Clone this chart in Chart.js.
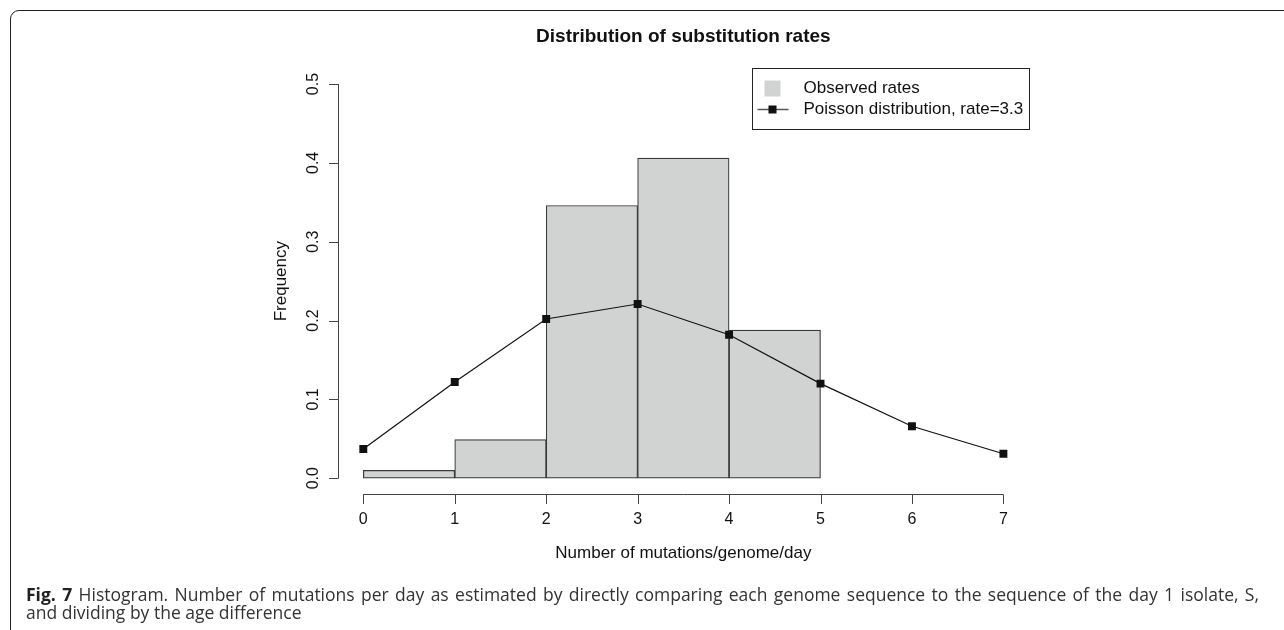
<!DOCTYPE html>
<html>
<head>
<meta charset="utf-8">
<script src="https://cdn.jsdelivr.net/npm/chart.js@4/dist/chart.umd.min.js"></script>
<style>
    body { margin: 0; background: #fff; }
    #wrap { position: relative; width: 1284px; height: 630px; overflow: hidden; }
    #frame {
        position: absolute; left: 10px; top: 10px; width: 1320px; height: 700px;
        border: 1.5px solid #222; border-radius: 9px; box-sizing: border-box;
    }
    #chart { position: absolute; left: 0; top: 0; }
    #caption {
        position: absolute; left: 26px; top: 585px; width: 1233px;
        font-family: "Open Sans", sans-serif; font-size: 17.5px; line-height: 18px; color: #333;
    }
    #caption .first { display: block; text-align: justify; text-align-last: justify; white-space: nowrap; }
    #caption b { color: #222; }
</style>
</head>
<body>
<div id="wrap">
    <div id="frame"></div>
    <canvas id="chart" width="1284" height="630"></canvas>
    <div id="caption">
        <span class="first"><b>Fig. 7</b> Histogram. Number of mutations per day as estimated by directly comparing each genome sequence to the sequence of the day 1 isolate, S,</span>
        <span>and dividing by the age difference</span>
    </div>
</div>
<script>
// histogram bins (left edges) and observed frequencies
const binStarts = [0, 1, 2, 3, 4];
const observedRates = [0.010, 0.049, 0.346, 0.406, 0.188];

// Poisson distribution, rate=3.3
const poissonX = [0, 1, 2, 3, 4, 5, 6, 7];
const poissonRates = [0.037, 0.122, 0.202, 0.221, 0.182, 0.120, 0.066, 0.031];

const xTicks = [0, 1, 2, 3, 4, 5, 6, 7];
const yTicks = [0, 0.1, 0.2, 0.3, 0.4, 0.5];
const yTickLabels = ['0.0', '0.1', '0.2', '0.3', '0.4', '0.5'];

const chartTitle = 'Distribution of substitution rates';
const xTitle = 'Number of mutations/genome/day';
const yTitle = 'Frequency';
const legendLabels = ['Observed rates', 'Poisson distribution, rate=3.3'];

const FONT = '"Liberation Sans", Arial, sans-serif';
const barFill = '#d1d3d2';

// R-style axes, titles and legend drawn from the chart's scales
const rStyle = {
    id: 'rStyle',
    afterDraw(chart) {
        const ctx = chart.ctx;
        const x = chart.scales.x;
        const y = chart.scales.y;
        const area = chart.chartArea;
        const tick = 9.5;
        ctx.save();
        ctx.strokeStyle = '#444';
        ctx.lineWidth = 1;
        ctx.fillStyle = '#111';

        // y axis
        const ax = Math.round(area.left) + 0.5;
        ctx.beginPath();
        ctx.moveTo(ax, y.getPixelForValue(yTicks[0]));
        ctx.lineTo(ax, y.getPixelForValue(yTicks[yTicks.length - 1]));
        yTicks.forEach(v => {
            const py = Math.round(y.getPixelForValue(v)) + 0.5;
            ctx.moveTo(ax, py);
            ctx.lineTo(ax - tick, py);
        });
        ctx.stroke();
        ctx.font = '16px ' + FONT;
        ctx.textAlign = 'center';
        ctx.textBaseline = 'middle';
        yTicks.forEach((v, i) => {
            ctx.save();
            ctx.translate(ax - 25, y.getPixelForValue(v));
            ctx.rotate(-Math.PI / 2);
            ctx.fillText(yTickLabels[i], 0, 0);
            ctx.restore();
        });

        // x axis
        const ay = Math.round(area.bottom) + 0.5;
        ctx.beginPath();
        ctx.moveTo(x.getPixelForValue(xTicks[0]), ay);
        ctx.lineTo(x.getPixelForValue(xTicks[xTicks.length - 1]), ay);
        xTicks.forEach(v => {
            const px = Math.round(x.getPixelForValue(v)) + 0.5;
            ctx.moveTo(px, ay);
            ctx.lineTo(px, ay + tick);
        });
        ctx.stroke();
        xTicks.forEach(v => ctx.fillText(String(v), x.getPixelForValue(v), ay + 25));

        // titles
        const cx = (area.left + area.right) / 2;
        ctx.font = '17px ' + FONT;
        ctx.fillText(xTitle, cx, ay + 59);
        ctx.save();
        ctx.translate(ax - 57, (area.top + area.bottom) / 2);
        ctx.rotate(-Math.PI / 2);
        ctx.fillText(yTitle, 0, 0);
        ctx.restore();
        ctx.font = 'bold 19px ' + FONT;
        ctx.fillText(chartTitle, cx, 37);

        // legend box in the top right corner
        const lw = 277, lh = 61;
        const lx = Math.round(area.right - lw) + 0.5;
        const ly = Math.round(area.top) + 0.5;
        ctx.strokeStyle = '#222';
        ctx.strokeRect(lx, ly, lw, lh);
        ctx.fillStyle = barFill;
        ctx.fillRect(lx + 12, ly + 12, 16, 16);
        ctx.strokeStyle = '#555';
        ctx.lineWidth = 1.5;
        ctx.beginPath();
        ctx.moveTo(lx + 5, ly + 41);
        ctx.lineTo(lx + 36, ly + 41);
        ctx.stroke();
        ctx.fillStyle = '#111';
        ctx.fillRect(lx + 16, ly + 37, 8, 8);
        ctx.font = '17px ' + FONT;
        ctx.textAlign = 'left';
        ctx.fillText(legendLabels[0], lx + 51, ly + 20);
        ctx.fillText(legendLabels[1], lx + 51, ly + 41);
        ctx.restore();
    }
};

new Chart(document.getElementById('chart'), {
    type: 'bar',
    data: {
        datasets: [
            {
                type: 'line',
                label: legendLabels[1],
                data: poissonX.map((v, i) => ({ x: v, y: poissonRates[i] })),
                borderColor: '#111',
                borderWidth: 1.2,
                tension: 0,
                pointStyle: 'rect',
                pointRadius: 5.6,
                pointBackgroundColor: '#111',
                pointBorderWidth: 0,
                order: 0
            },
            {
                label: legendLabels[0],
                data: binStarts.map((v, i) => ({ x: v + 0.5, y: observedRates[i] })),
                backgroundColor: barFill,
                borderColor: '#3a3a3a',
                borderWidth: 1.2,
                borderSkipped: false,
                barPercentage: 1,
                categoryPercentage: 1,
                order: 1
            }
        ]
    },
    options: {
        responsive: false,
        animation: false,
        layout: { padding: { left: 337.7, right: 255, top: 68.3, bottom: 136 } },
        scales: {
            x: {
                type: 'linear', display: false, min: -0.28, max: 7.28, offset: false,
                ticks: { stepSize: 1, includeBounds: false }
            },
            y: {
                type: 'linear', display: false, min: -0.02, max: 0.52,
                ticks: { stepSize: 0.1, includeBounds: false }
            }
        },
        plugins: {
            legend: { display: false },
            title: { display: false },
            tooltip: { enabled: false }
        }
    },
    plugins: [rStyle]
});
</script>
</body>
</html>
